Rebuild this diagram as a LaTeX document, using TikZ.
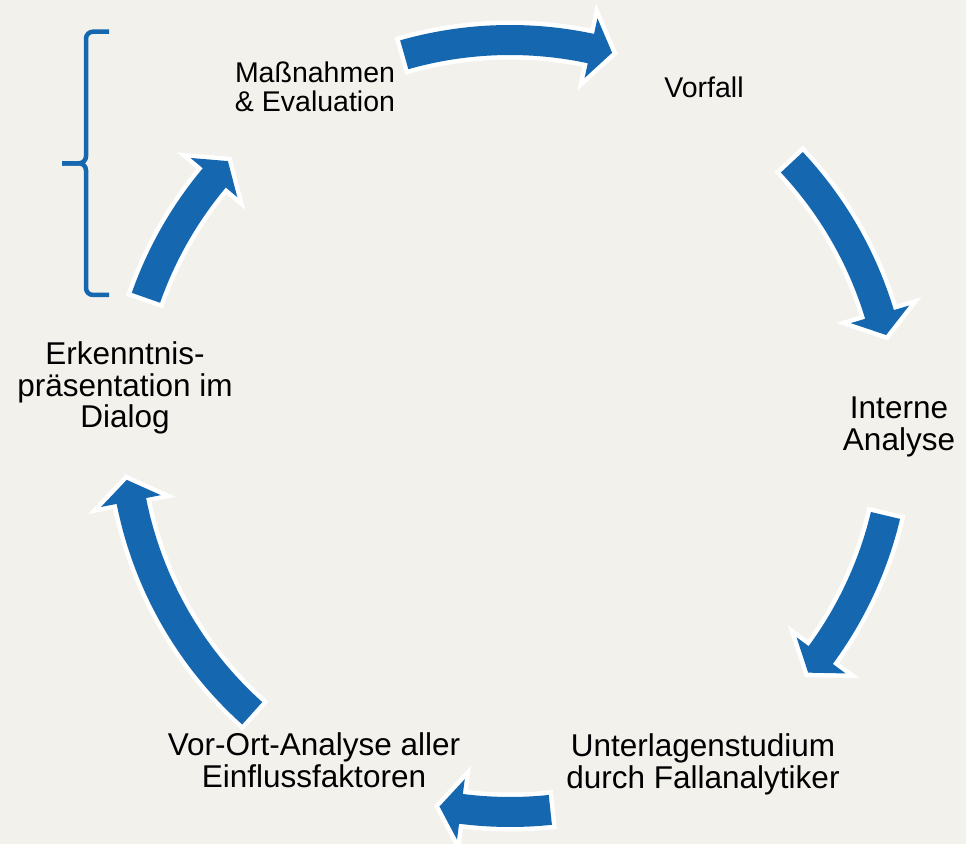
\documentclass[tikz,border=0pt]{standalone}
\usepackage{fontspec}
\setmainfont{Liberation Sans}
\definecolor{cycleblue}{RGB}{21,104,176}
\definecolor{paper}{RGB}{242,241,236}
\tikzset{
    cycle-arrow/.style = {fill=cycleblue, preaction={draw=white, line width=9pt}},
    step-label/.style = {align=center, inner sep=0pt, font=\fontsize{31.5}{31.6}\selectfont},
    step-label-small/.style = {step-label, font=\fontsize{28.5}{28.4}\selectfont},
    brace-line/.style = {draw=cycleblue, line width=4.5pt, rounded corners=7pt},
}
\begin{document}
\begin{tikzpicture}[x=1pt, y=1pt]
\fill[paper] (0,0) rectangle (966,844);
\coordinate (hub) at (510,418);
\begin{scope}[shift={(hub)}]
\foreach \tail/\tip in {105.9/74.7, 43.1/13.6, -13.4/-39.6, -84.0/-100.5, 228.1/188.0, 160.6/136.8}{
    \pgfmathsetmacro{\back}{\tip+3.2}
    \path[cycle-arrow] (\tail:401) arc[start angle=\tail, end angle=\back, radius=401]
        -- (\back:417) -- (\tip:387) -- (\back:356) -- (\back:371)
        arc[start angle=\back, end angle=\tail, radius=371] -- cycle;
}
\end{scope}
\node[step-label-small] (vorfall) at (704,757) {Vorfall};
\node[step-label] (analyse) at (899,416.8) {Interne\\Analyse};
\node[step-label] (studium) at (703,79.7) {Unterlagenstudium\\durch Fallanalytiker};
\node[step-label] (vorort) at (314,83.8) {Vor-Ort-Analyse aller\\Einflussfaktoren};
\node[step-label] (dialog) at (125,455.8) {Erkenntnis-\\präsentation im\\Dialog};
\node[step-label-small] (massnahmen) at (315,757) {Maßnahmen\\\& Evaluation};
\draw[brace-line] (109,812.3) -- (86,812.3) -- (86,680.7) -- (62,680.7);
\draw[brace-line] (109,549) -- (86,549) -- (86,680.7) -- (62,680.7);
\end{tikzpicture}
\end{document}
